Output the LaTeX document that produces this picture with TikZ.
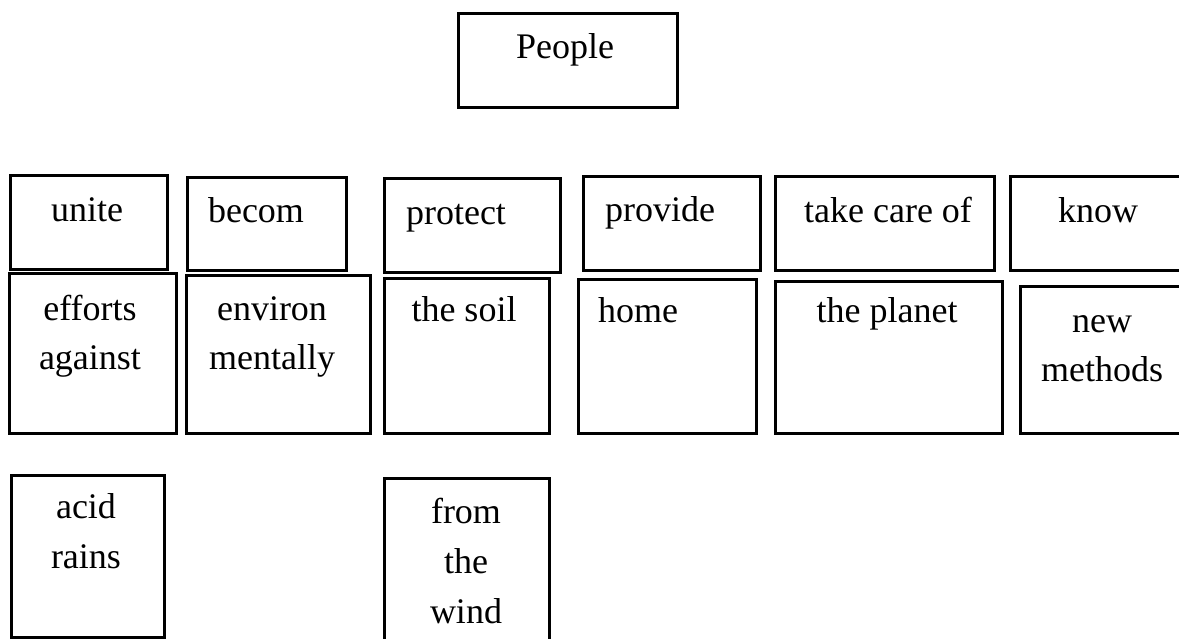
\documentclass[tikz,border=0pt]{standalone}
\usepackage{fontspec}
\setmainfont{Liberation Serif}
% one framed box, given by its corners (x1,y1) and (x2,y2)
\newcommand\wbox[5]{%
  \node[box, anchor=north west, minimum width={#4-#2}, minimum height={#5-#3}] (#1) at (#2,#3) {};}
% text stacked in lines, first baseline at the node's base
\newcommand\lines[1]{\begin{tabular}[t]{@{}c@{}}#1\end{tabular}}
\begin{document}
\begin{tikzpicture}[x=1pt,y=-1pt,
  box/.style={draw=black, line width=3pt, inner sep=0pt},
  word/.style={inner sep=0pt, anchor=base, font=\fontsize{36}{50}\selectfont}]
\useasboundingbox (0,0) rectangle (1179,639);
\fill[white] (0,0) rectangle (1179,639);

% title
\wbox{people}{457}{12}{676}{106}
\node[word] (people-t) at (565,59) {People};

% verbs
\wbox{unite}{9}{174}{166}{268}
\wbox{becom}{186}{176}{345}{269}
\wbox{protect}{383}{177}{559}{271}
\wbox{provide}{582}{175}{759}{269}
\wbox{takecare}{774}{175}{993}{269}
\wbox{know}{1009}{175}{1184}{269}
\node[word] (unite-t)    at (87,222)   {unite};
\node[word] (becom-t)    at (256,223)  {becom};
\node[word] (protect-t)  at (456,225)  {protect};
\node[word] (provide-t)  at (660,222)  {provide};
\node[word] (takecare-t) at (888,223)  {take care of};
\node[word] (know-t)     at (1098,223) {know};

% objects
\wbox{efforts}{8}{272}{175}{432}
\wbox{environ}{185}{274}{369}{432}
\wbox{soil}{383}{277}{548}{432}
\wbox{home}{577}{278}{755}{432}
\wbox{planet}{774}{280}{1001}{432}
\wbox{methods}{1019}{285}{1184}{432}
\node[word] (efforts-t) at (90,320)   {\lines{efforts\\against}};
\node[word] (environ-t) at (272,320)  {\lines{environ\\mentally}};
\node[word] (soil-t)    at (464,322)  {the soil};
\node[word] (home-t)    at (638,323)  {home};
\node[word] (planet-t)  at (887,323)  {the planet};
\node[word] (methods-t) at (1102,332) {\lines{new\\methods}};

% continuations
\wbox{acid}{10}{474}{163}{636}
\wbox{wind}{383}{477}{548}{646}
\node[word] (acid-t) at (86,518)  {\lines{acid\\rains}};
\node[word] (wind-t) at (466,523) {\lines{from\\the\\wind}};
\end{tikzpicture}
\end{document}
